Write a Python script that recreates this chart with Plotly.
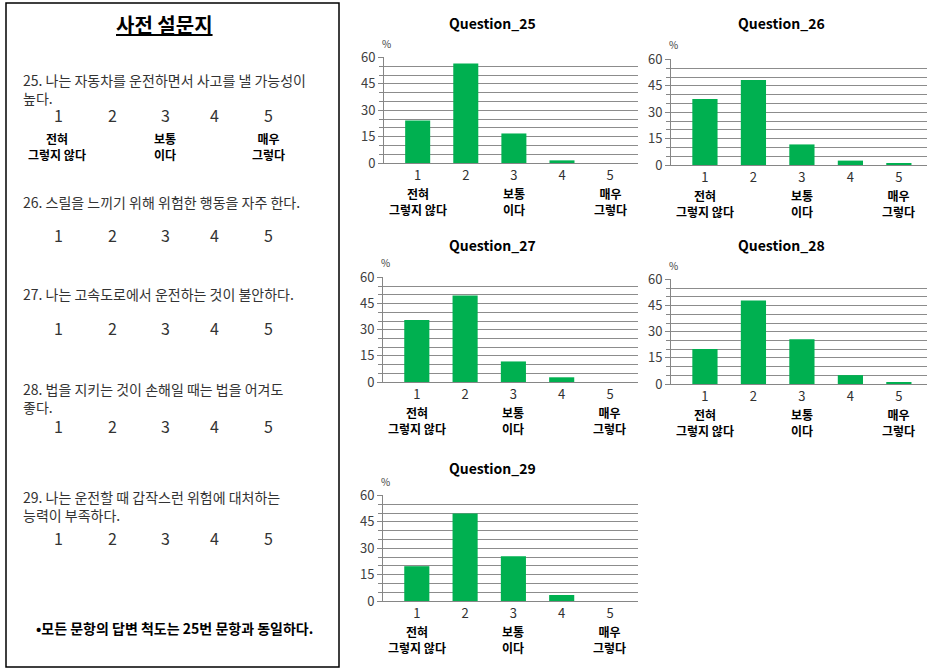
import plotly.graph_objects as go

W, H = 945, 669

categories = [1, 2, 3, 4, 5]
tick_numbers = ["1", "2", "3", "4", "5"]
tick_words = ["전혀<br>그렇지 않다", "", "보통<br>이다", "", "매우<br>그렇다"]
question_titles = ["Question_25", "Question_26", "Question_27", "Question_28", "Question_29"]
q25 = [24.2, 56.6, 16.8, 1.5, 0.0]
q26 = [37.5, 48.3, 11.7, 2.5, 0.6]
q27 = [35.6, 49.7, 11.8, 2.7, 0.0]
q28 = [20.1, 47.9, 25.7, 5.1, 0.7]
q29 = [19.8, 49.8, 25.5, 3.4, 0.0]
series = [q25, q26, q27, q28, q29]
y_ticks = [0, 15, 30, 45, 60]

survey_title = "사전 설문지"
questions = [
    ["25. 나는 자동차를 운전하면서 사고를 낼 가능성이", "높다."],
    ["26. 스릴을 느끼기 위해 위험한 행동을 자주 한다."],
    ["27. 나는 고속도로에서 운전하는 것이 불안하다."],
    ["28. 법을 지키는 것이 손해일 때는 법을 어겨도", "좋다."],
    ["29. 나는 운전할 때 갑작스런 위험에 대처하는", "능력이 부족하다."],
]
scale_numbers = ["1", "2", "3", "4", "5"]
scale_words = [("전혀<br>그렇지 않다", 57), ("보통<br>이다", 165), ("매우<br>그렇다", 268)]
footnote = "•모든 문항의 답변 척도는 25번 문항과 동일하다."

FONT = "Noto Sans CJK KR"
GREEN = "#00B050"


def px(x):
    return x / W


def py(y):
    return 1 - y / H


# plot areas in pixels: (x0, x1, ytop, ybottom)
boxes = [
    (384, 638, 57, 163),
    (671, 927, 59, 165),
    (383, 638, 277, 382),
    (671, 927, 279, 384),
    (383, 638, 495, 601),
]
title_y = [23, 23, 245, 245, 468]

fig = go.Figure()
annotations = []
layout_axes = {}

for i, (vals, (x0, x1, yt, yb)) in enumerate(zip(series, boxes)):
    n = i + 1
    xa = "x" if n == 1 else f"x{n}"
    ya = "y" if n == 1 else f"y{n}"
    fig.add_trace(go.Bar(
        x=categories, y=vals, width=0.52,
        marker=dict(color=GREEN, line=dict(width=0)),
        xaxis=xa, yaxis=ya, showlegend=False, hoverinfo="x+y",
    ))
    xkey = "xaxis" if n == 1 else f"xaxis{n}"
    ykey = "yaxis" if n == 1 else f"yaxis{n}"
    layout_axes[xkey] = dict(
        domain=[px(x0), px(x1)], anchor=ya, range=[0.3, 5.58],
        tickmode="array", tickvals=categories, ticktext=tick_numbers,
        showgrid=False, zeroline=False, showline=True, linecolor="#868686",
        linewidth=1, ticks="", ticklabelstandoff=0,
        tickfont=dict(family=FONT, size=13, color="#303030"),
        fixedrange=True, automargin=False,
    )
    layout_axes[ykey] = dict(
        domain=[py(yb), py(yt)], anchor=xa, range=[0, 60.3],
        tickmode="array", tickvals=y_ticks,
        showgrid=True, gridcolor="#8c8c8c", gridwidth=1,
        zeroline=False, showline=True, linecolor="#868686", linewidth=1,
        ticks="outside", ticklen=5, tickcolor="#868686",
        minor=dict(dtick=5, showgrid=True, gridcolor="#8c8c8c", gridwidth=1,
                   ticks="outside", ticklen=4, tickcolor="#868686"),
        tickfont=dict(family=FONT, size=13, color="#404040"),
        fixedrange=True, automargin=False,
    )
    for cat, words in zip(categories, tick_words):
        if words:
            annotations.append(dict(
                x=cat, xref=xa, y=py(yb + 38), yref="paper",
                text=f"<b>{words}</b>", showarrow=False,
                font=dict(family=FONT, size=12, color="#000000"),
                xanchor="center", yanchor="middle", borderpad=0,
            ))
    annotations.append(dict(
        x=px((x0 + x1) / 2 - 18), y=py(title_y[i]), xref="paper", yref="paper",
        text=f"<b>{question_titles[i]}</b>", showarrow=False,
        font=dict(family=FONT, size=14, color="#000000"),
        xanchor="center", yanchor="middle",
    ))
    annotations.append(dict(
        x=px(x0 - 4), y=py(yt - 14), xref="paper", yref="paper",
        text="%", showarrow=False,
        font=dict(family=FONT, size=10, color="#404040"),
        xanchor="left", yanchor="middle",
    ))

# Left survey panel
annotations.append(dict(
    x=px(164), y=py(25), xref="paper", yref="paper",
    text=f"<b><u>{survey_title}</u></b>", showarrow=False,
    font=dict(family=FONT, size=20, color="#000000"),
    xanchor="center", yanchor="middle",
))

q_y = [78, 200, 292, 387, 495]
num_y = [115, 235, 328, 426, 538]
num_x = [58, 112, 165, 214, 268]
for qi, lines in enumerate(questions):
    annotations.append(dict(
        x=px(21), y=py(q_y[qi] - 10), xref="paper", yref="paper",
        text="<br>".join(lines), showarrow=False, align="left",
        font=dict(family=FONT, size=14, color="#333333"),
        xanchor="left", yanchor="top",
    ))
    for nx, s in zip(num_x, scale_numbers):
        annotations.append(dict(
            x=px(nx), y=py(num_y[qi]), xref="paper", yref="paper",
            text=s, showarrow=False,
            font=dict(family=FONT, size=16, color="#333333"),
            xanchor="center", yanchor="middle",
        ))

for word, wx in scale_words:
    annotations.append(dict(
        x=px(wx), y=py(147), xref="paper", yref="paper",
        text=f"<b>{word}</b>", showarrow=False,
        font=dict(family=FONT, size=12, color="#000000"),
        xanchor="center", yanchor="middle",
    ))

annotations.append(dict(
    x=px(174), y=py(628), xref="paper", yref="paper",
    text=f"<b>{footnote}</b>", showarrow=False,
    font=dict(family=FONT, size=14, color="#000000"),
    xanchor="center", yanchor="middle",
))

fig.update_layout(
    width=W, height=H,
    margin=dict(l=0, r=0, t=0, b=0, pad=0),
    paper_bgcolor="white", plot_bgcolor="white",
    bargap=0.5,
    annotations=annotations,
    shapes=[dict(type="rect", xref="paper", yref="paper",
                 x0=px(6), x1=px(339), y0=py(667), y1=py(3),
                 line=dict(color="#000000", width=1.5))],
    font=dict(family=FONT),
    **layout_axes,
)

fig.write_html(
    "out.html",
    config={"displayModeBar": False},
    post_script="document.body.style.margin='0';document.body.style.overflow='hidden';",
)
